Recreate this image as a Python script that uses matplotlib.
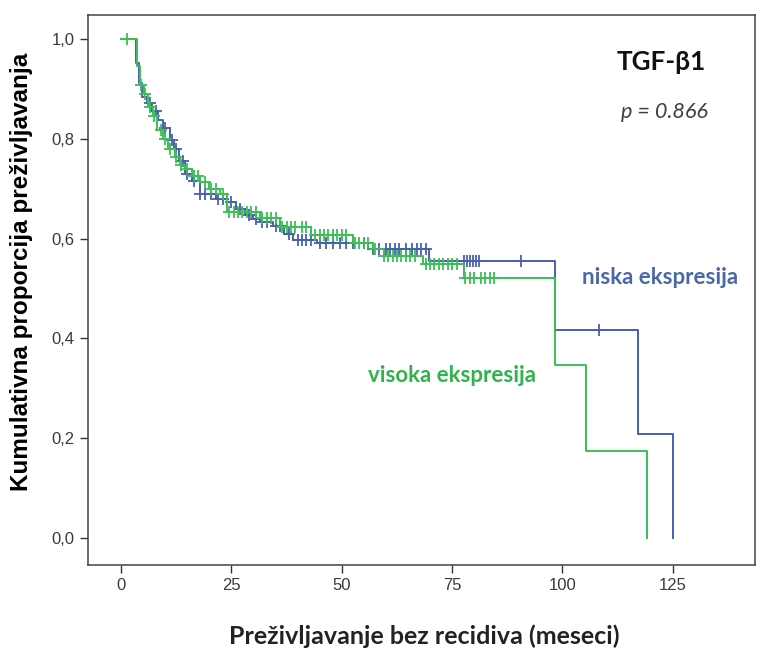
import numpy as np
import matplotlib
matplotlib.use('Agg')
import matplotlib.pyplot as plt
from matplotlib.ticker import FuncFormatter

# niska ekspresija (plava)
niska_t = [0, 3.5, 4.1, 4.7, 5.8, 7.0, 8.4, 9.5, 11.1, 12.0, 13.2, 14.5, 16.0, 17.9,
           21.5, 24.0, 26.0, 28.0, 30.0, 31.5, 34.5, 37.0, 39.0, 44.5, 56.0, 69.8,
           98.4, 117.2, 125.1]
niska_s = [1.0, 0.951, 0.912, 0.884, 0.872, 0.855, 0.838, 0.822, 0.798, 0.78, 0.755, 0.73,
           0.715, 0.69, 0.68, 0.673, 0.66, 0.648, 0.64, 0.633, 0.625, 0.61, 0.597, 0.591,
           0.58, 0.555, 0.417, 0.209, 0.0]
niska_cens = [6.5, 8, 10, 11.5, 12.5, 14, 15, 16.5, 18, 19, 20.5, 22, 23, 25, 27, 29,
              30.5, 32, 33, 35, 36, 38, 40, 41, 42, 43, 45, 46.5, 48, 49.5, 51, 52.5,
              55, 57, 58.5, 60, 61, 62, 63, 64.5, 66, 67, 68, 69, 77.6, 78.3, 79, 79.7,
              80.4, 81.1, 90.7, 108.3]

# visoka ekspresija (zelena)
visoka_t = [0, 3.6, 4.3, 5.2, 6.1, 7.2, 8.1, 9.5, 10.6, 12.2, 13.4, 14.5, 16.0, 17.9,
            20.0, 22.4, 24.0, 31.5, 36.0, 43.0, 52.5, 57.0, 59.5, 68.4, 77.6, 98.4,
            105.3, 119.1]
visoka_s = [1.0, 0.945, 0.908, 0.89, 0.864, 0.845, 0.818, 0.80, 0.78, 0.764, 0.747, 0.74,
            0.725, 0.713, 0.70, 0.69, 0.653, 0.641, 0.623, 0.607, 0.591, 0.58, 0.565,
            0.549, 0.522, 0.347, 0.174, 0.0]
visoka_cens = [1.3, 4.5, 5.5, 6.5, 7.5, 9, 10, 11, 12.5, 13.5, 15, 16.5, 17.5, 19, 20.5,
               21.5, 23, 24.5, 25.5, 26.5, 27.5, 28.5, 29.5, 30.5, 32, 33, 34, 35, 36.5,
               37.5, 38.5, 39.5, 41, 42, 44, 45, 46, 47, 48, 49, 50, 51, 53, 54, 55, 56,
               57.5, 59.5, 60.5, 61.5, 62.5, 63.5, 64.5, 65.5, 66.5, 69, 70, 71, 72, 73,
               74, 75, 76, 78, 79, 80, 81.5, 82.5, 83.5, 84.5]

blue = '#4a5fb0'
green = '#3cbf55'

fig = plt.figure(figsize=(7.6, 6.49), dpi=100)
ax = fig.add_axes([88 / 760, 1 - 565 / 649, (755 - 88) / 760, (565 - 15) / 649])


def step_at(t, times, surv):
    i = np.searchsorted(times, t, side='right') - 1
    return np.array(surv)[i]


for t, s, c, col in [(niska_t, niska_s, niska_cens, blue),
                     (visoka_t, visoka_s, visoka_cens, green)]:
    ax.step(t, s, where='post', color=col, lw=1.4)
    ax.plot(c, step_at(c, t, s), ls='none', marker='+', ms=9, mew=1.3, color=col)

ax.set_xlim(-7.47, 143.6)
ax.set_ylim(-0.054, 1.048)
ax.set_xticks([0, 25, 50, 75, 100, 125])
ax.set_yticks([0, 0.2, 0.4, 0.6, 0.8, 1.0])
ax.yaxis.set_major_formatter(FuncFormatter(lambda v, p: f'{v:.1f}'.replace('.', ',')))
ax.tick_params(direction='out', length=6, width=1, color='#333333', labelsize=12,
               labelcolor='#3a3a3a', labelfontfamily='Liberation Sans')
for sp in ax.spines.values():
    sp.set_color('#444444')
    sp.set_linewidth(1.1)

fig.text(22 / 760, 1 - 272 / 649, 'Kumulativna proporcija preživljavanja', rotation=90,
         ha='center', va='center', fontsize=17.5, fontweight='bold',
         family=['Liberation Sans', 'DejaVu Sans'])
fig.text(424 / 760, 1 - 636 / 649, 'Preživljavanje bez recidiva (meseci)',
         ha='center', va='center', fontsize=18, fontweight='bold',
         family=['Lato', 'DejaVu Sans'], color='#222222')

ax.text(122.3, 0.954, 'TGF-β1', ha='center', va='center', fontsize=18.8, fontweight='bold',
        family=['Lato', 'DejaVu Sans'], color='#111111')
ax.text(123, 0.854, 'p = 0.866', ha='center', va='center', fontsize=15.6, style='italic',
        family=['Lato', 'DejaVu Sans'], color='#404040')
ax.text(122, 0.523, 'niska ekspresija', ha='center', va='center', fontsize=16,
        fontweight='bold', family=['Lato', 'DejaVu Sans'], color='#4a68a8')
ax.text(75, 0.325, 'visoka ekspresija', ha='center', va='center', fontsize=16,
        fontweight='bold', family=['Lato', 'DejaVu Sans'], color='#2fb34a')

fig.savefig('out.png', dpi=100)
